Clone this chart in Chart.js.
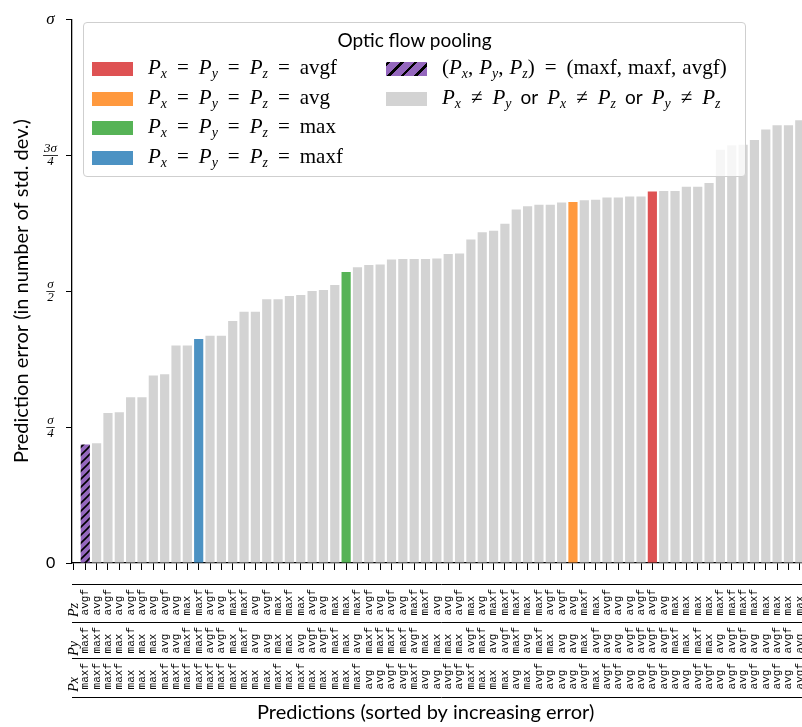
<!DOCTYPE html>
<html>
<head>
<meta charset="utf-8">
<script src="https://cdn.jsdelivr.net/npm/chart.js@4.4.1/dist/chart.umd.min.js"></script>
<style>
  html, body { margin: 0; padding: 0; background: #fff; overflow: hidden; }
  #wrap { position: relative; width: 830px; height: 727px; }
  #legend {
    position: absolute; left: 83px; top: 22px; width: 663px; height: 155px;
    box-sizing: border-box; background: rgba(255,255,255,0.8);
    border: 1px solid #cfcfcf; border-radius: 4px;
    font-family: "Liberation Serif", serif; font-size: 21px; color: #000;
  }
  #legend .title { position: absolute; top: 5px; left: 0; width: 100%; text-align: center;
    font-family: Lato, sans-serif; font-size: 19px; }
  #legend .item { position: absolute; height: 30px; display: flex; align-items: center; white-space: nowrap; }
  #legend .patch { width: 41px; height: 14px; margin-right: 15px; flex: none; }
  #legend i { font-style: italic; }
  #legend sub { font-size: 66%; vertical-align: -0.3em; font-style: italic; }
  #legend .op { margin: 0 10px; }
  #legend .cm { margin-right: 6px; }
  #legend .txt { font-family: Lato, sans-serif; font-size: 19px; margin: 0 9px; }
</style>
</head>
<body>
<div id="wrap">
  <canvas id="chart" width="830" height="727"></canvas>
  <div id="legend"></div>
</div>
<script>
/*--Data--*/
var pools = ['avgf', 'avg', 'max', 'maxf'];
var poolColors = ['#de5253', '#ff993e', '#56b356', '#4c92c3'];
var otherColor = '#d3d3d3';
var hatchColor = '#9467bd';
var hatchedCombo = ['maxf', 'maxf', 'avgf'];

// prediction error (in std. dev.), sorted
var errors = [0.218, 0.220, 0.276, 0.277, 0.305, 0.305, 0.345, 0.347, 0.400, 0.400,
  0.412, 0.418, 0.418, 0.445, 0.462, 0.462, 0.485, 0.485, 0.491, 0.493,
  0.500, 0.502, 0.511, 0.535, 0.544, 0.548, 0.549, 0.558, 0.559, 0.559,
  0.559, 0.560, 0.568, 0.569, 0.595, 0.608, 0.611, 0.624, 0.650, 0.656,
  0.659, 0.659, 0.663, 0.664, 0.667, 0.668, 0.672, 0.672, 0.674, 0.674,
  0.683, 0.684, 0.684, 0.692, 0.692, 0.699, 0.760, 0.768, 0.769, 0.778,
  0.797, 0.805, 0.805, 0.814];

var poolX = ['maxf','maxf','maxf','maxf','max','max','max','maxf','maxf','maxf',
  'maxf','maxf','maxf','maxf','max','max','max','maxf','max','maxf',
  'max','max','max','max','maxf','avg','avg','avgf','avgf','maxf',
  'avg','avg','avgf','avgf','maxf','max','max','max','avg','max',
  'avgf','avg','avg','avg','avgf','max','avgf','avgf','avg','avg',
  'avgf','avgf','avg','avg','avgf','avgf','avg','avgf','avg','avgf',
  'avg','avgf','avg','avgf'];
var poolY = ['maxf','maxf','max','max','maxf','max','max','avg','avg','maxf',
  'maxf','avgf','avgf','max','maxf','avg','avg','max','max','avg',
  'avgf','avgf','maxf','max','avg','maxf','maxf','maxf','maxf','avgf',
  'max','max','max','max','avgf','maxf','avg','avgf','maxf','avg',
  'maxf','max','avg','avg','max','avgf','avg','avg','avgf','avgf',
  'avgf','avgf','maxf','max','maxf','max','avg','avgf','avgf','avg',
  'avg','avgf','avgf','avg'];
var poolZ = ['avgf','avg','avgf','avg','avgf','avgf','avg','avgf','avg','max',
  'maxf','avgf','avg','maxf','maxf','avg','avgf','max','maxf','max',
  'avgf','avg','max','max','maxf','avgf','avg','avgf','avg','maxf',
  'maxf','avg','avg','avgf','max','avg','maxf','maxf','maxf','max',
  'maxf','avgf','avgf','avg','maxf','max','avgf','avg','avg','avgf',
  'avgf','avg','max','max','max','max','maxf','maxf','maxf','maxf',
  'max','max','max','max'];

var yTickValues = [0, 0.25, 0.5, 0.75, 1];
var yTickLabels = ['0', ['σ', '4'], ['σ', '2'], ['3σ', '4'], 'σ'];
/*--------*/

var xMin = -1.17, xMax = 63.9;
var xTicks = [-1].concat(errors.map(function(e, i) { return i; }));

function hatchPattern(color) {
  var c = document.createElement('canvas');
  c.width = 8; c.height = 8;
  var g = c.getContext('2d');
  g.fillStyle = color; g.fillRect(0, 0, 8, 8);
  g.strokeStyle = '#000'; g.lineWidth = 1.6;
  g.beginPath();
  g.moveTo(0, 8); g.lineTo(8, 0);
  g.moveTo(-2, 2); g.lineTo(2, -2);
  g.moveTo(6, 10); g.lineTo(10, 6);
  g.stroke();
  return g.createPattern(c, 'repeat');
}
var hatch = hatchPattern(hatchColor);

function barColor(i) {
  if (poolX[i] === hatchedCombo[0] && poolY[i] === hatchedCombo[1] && poolZ[i] === hatchedCombo[2]) return hatch;
  if (poolX[i] === poolY[i] && poolY[i] === poolZ[i]) return poolColors[pools.indexOf(poolX[i])];
  return otherColor;
}

function pad4(s) { return (s + '    ').slice(0, 4); }

function rowAxis(weight, names, header, height) {
  return {
    type: 'linear', axis: 'x', position: 'bottom', weight: weight,
    min: xMin, max: xMax, offset: false,
    afterBuildTicks: function(s) { s.ticks = xTicks.map(function(v) { return {value: v}; }); },
    afterFit: function(s) { s.height = height; },
    grid: {display: false, drawTicks: false, offset: false},
    border: {display: true, color: '#000', width: 1},
    ticks: {
      autoSkip: false, maxRotation: 90, minRotation: 90, padding: 5, color: '#000',
      font: function(c) {
        if (c.tick && c.tick.value < 0) return {family: 'Liberation Serif', style: 'italic', size: 14};
        return {family: 'Liberation Mono', size: 11};
      },
      callback: function(v) { return v < 0 ? header : pad4(names[v]); }
    }
  };
}

// fraction bars for the y tick labels
var fracBars = {
  id: 'fracBars',
  afterDraw: function(chart) {
    var y = chart.scales.y, ctx = chart.ctx;
    var widest = y._getLabelSizes().widest.width;
    var cx = y.right - 6 - 9 - widest / 2;
    ctx.save();
    ctx.strokeStyle = '#000'; ctx.lineWidth = 0.8;
    ctx.font = 'italic 13px "Liberation Serif"';
    yTickValues.forEach(function(v, k) {
      var lab = yTickLabels[k];
      if (!Array.isArray(lab)) return;
      var w = Math.max.apply(null, lab.map(function(s) { return ctx.measureText(s).width; }));
      var py = Math.round(y.getPixelForValue(v)) + 0.5;
      ctx.beginPath(); ctx.moveTo(cx - w / 2 - 1, py); ctx.lineTo(cx + w / 2 + 1, py); ctx.stroke();
    });
    ctx.restore();
  }
};

var chart = new Chart('chart', {
  type: 'bar',
  data: {
    datasets: [{
      data: errors.map(function(e, i) { return {x: i, y: e}; }),
      backgroundColor: errors.map(function(e, i) { return barColor(i); }),
      borderWidth: 0,
      categoryPercentage: 1,
      barPercentage: 0.81
    }]
  },
  options: {
    responsive: false,
    animation: false,
    layout: {padding: {top: 15, right: 20, left: 0, bottom: 0}},
    plugins: {legend: {display: false}, tooltip: {enabled: false}},
    scales: {
      x: {
        type: 'linear', position: 'bottom', weight: 1, min: xMin, max: xMax, offset: false,
        afterBuildTicks: function(s) { s.ticks = xTicks.map(function(v) { return {value: v}; }); },
        afterFit: function(s) { s.height = 21; },
        grid: {display: true, drawOnChartArea: false, drawTicks: true, tickLength: 7, color: '#000', offset: false},
        border: {display: true, color: '#000', width: 1.3},
        ticks: {display: false, autoSkip: false}
      },
      xz: rowAxis(2, poolZ, 'Pz    ', 38),
      xy: rowAxis(3, poolY, 'Py    ', 36),
      xx: rowAxis(4, poolX, 'Px    ', 39),
      xend: {
        type: 'linear', axis: 'x', position: 'bottom', weight: 5, min: xMin, max: xMax,
        afterFit: function(s) { s.height = 30; },
        grid: {display: false, drawTicks: false},
        border: {display: true, color: '#000', width: 1},
        ticks: {display: false},
        title: {display: true, text: 'Predictions (sorted by increasing error)      ', color: '#000',
          font: {family: 'Lato', size: 20}, padding: {top: 0, bottom: 2}}
      },
      y: {
        type: 'linear', position: 'left', min: 0, max: 1,
        afterBuildTicks: function(s) { s.ticks = yTickValues.map(function(v) { return {value: v}; }); },
        afterFit: function(s) { s.width = 72; },
        grid: {display: true, drawOnChartArea: false, drawTicks: true, tickLength: 6, color: '#000'},
        border: {display: true, color: '#000', width: 1.3},
        ticks: {
          crossAlign: 'center', padding: 9, color: '#000',
          font: function(c) {
            var v = c.tick ? c.tick.value : 0;
            if (v === 0) return {family: 'Lato', size: 16};
            if (v === 1) return {family: 'Liberation Serif', style: 'italic', size: 17};
            return {family: 'Liberation Serif', style: 'italic', size: 13, lineHeight: 1.05};
          },
          callback: function(v) { return yTickLabels[yTickValues.indexOf(v)]; }
        },
        title: {display: true, text: 'Prediction error (in number of std. dev.)', color: '#000',
          font: {family: 'Lato', size: 20}, padding: {top: 10, bottom: 0}}
      }
    }
  },
  plugins: [fracBars]
});

/*--Legend--*/
function P(s) { return '<i>P</i><sub>' + s + '</sub>'; }
function op(s) { return '<span class="op">' + s + '</span>'; }
var cm = '<span class="cm">,</span>';
var legendLeft = pools.map(function(p, k) {
  return {fill: poolColors[k], html: P('x') + op('=') + P('y') + op('=') + P('z') + op('=') + p};
});
var legendRight = [
  {fill: 'repeating-linear-gradient(-45deg, ' + hatchColor + ' 0 7px, #000 7px 9.5px)',
   html: '(' + P('x') + cm + P('y') + cm + P('z') + ')' + op('=') + '(' + hatchedCombo.join(cm) + ')'},
  {fill: otherColor,
   html: P('x') + op('≠') + P('y') + '<span class="txt">or</span>' + P('x') + op('≠') + P('z') +
         '<span class="txt">or</span>' + P('y') + op('≠') + P('z')}
];
var rowTops = [31, 61, 90, 120];
var box = document.getElementById('legend');
var html = '<div class="title">Optic flow pooling</div>';
legendLeft.forEach(function(e, k) {
  html += '<div class="item" style="left:8px;top:' + rowTops[k] + 'px"><span class="patch" style="background:' +
    e.fill + '"></span><span>' + e.html + '</span></div>';
});
legendRight.forEach(function(e, k) {
  html += '<div class="item" style="left:302px;top:' + rowTops[k] + 'px"><span class="patch" style="background:' +
    e.fill + '"></span><span>' + e.html + '</span></div>';
});
box.innerHTML = html;
</script>
</body>
</html>
